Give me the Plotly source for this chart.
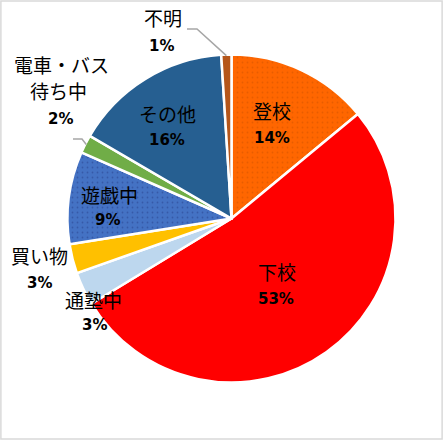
import math
import plotly.graph_objects as go

# ---- data ----
categories = ["登校", "下校", "通塾中", "買い物", "遊戯中", "電車・バス待ち中", "その他", "不明"]
values = [14.0, 52.3, 3.3, 2.9, 9.1, 1.8, 15.6, 1.0]
pct_labels = ["14%", "53%", "3%", "3%", "9%", "2%", "16%", "1%"]
name_lines = [["登校"], ["下校"], ["通塾中"], ["買い物"], ["遊戯中"], ["電車・バス", "待ち中"], ["その他"], ["不明"]]

# ---- style ----
colors = ["#FF6600", "#FF0000", "#BDD7EE", "#FFC000", "#4472C4", "#70AD47", "#265F91", "#B5561A"]
pattern_fg = ["#E85C00", "#FF0000", "#BDD7EE", "#FFC000", "#3659A8", "#70AD47", "#265F91", "#B5561A"]
pattern_shape = [".", "", "", "", ".", "", "", ""]
W, H = 443, 440
CX, CY, R = 231.5, 218.5, 164.0
# label anchor (pixel) positions: name line(s) center, percent center
name_pos = [[(272, 110)], [(277, 271)], [(93, 299)], [(39, 255)], [(109, 195)],
            [(61, 64), (59, 91)], [(167, 114)], [(163, 18)]]
pct_pos = [(272, 138), (276, 299), (94, 325), (39, 283), (107, 220), (60, 119), (167, 140), (161, 46)]
# leader lines: slice index -> elbow points (pixel)
leaders = {7: [(197, 29), (187, 29)], 5: [(82, 139), (73, 139)]}

FONT = "Noto Sans CJK JP"


def px(x):
    return x / W


def py(y):
    return 1 - y / H


fig = go.Figure(go.Pie(
    labels=categories,
    values=values,
    sort=False,
    direction="clockwise",
    rotation=0,
    textinfo="none",
    hoverinfo="label+percent",
    marker=dict(colors=colors, line=dict(color="white", width=2.5),
                pattern=dict(shape=pattern_shape, bgcolor=colors,
                             fgcolor=pattern_fg, size=5, solidity=0.1)),
    domain=dict(x=[px(CX - R), px(CX + R)], y=[py(CY + R), py(CY - R)]),
    showlegend=False,
))

annotations = []
for i in range(len(categories)):
    for line, (x, y) in zip(name_lines[i], name_pos[i]):
        annotations.append(dict(x=px(x), y=py(y), xref="paper", yref="paper", text=line,
                                showarrow=False, font=dict(family=FONT, size=19, color="black"),
                                xanchor="center", yanchor="middle"))
    x, y = pct_pos[i]
    annotations.append(dict(x=px(x), y=py(y), xref="paper", yref="paper", text="<b>" + pct_labels[i] + "</b>",
                            showarrow=False, font=dict(family="DejaVu Sans", size=15, color="black"),
                            xanchor="center", yanchor="middle"))

shapes = []
total = sum(values)
cum = 0.0
for i, v in enumerate(values):
    mid = (cum + v / 2) / total * 2 * math.pi
    cum += v
    if i in leaders:
        ex = CX + (R - 1) * math.sin(mid)
        ey = CY - (R - 1) * math.cos(mid)
        pts = [(ex, ey)] + leaders[i]
        path = "M " + " L ".join(f"{px(a)},{py(b)}" for a, b in pts)
        shapes.append(dict(type="path", path=path, xref="paper", yref="paper",
                           line=dict(color="#A6A6A6", width=1.5)))

shapes.append(dict(type="rect", xref="paper", yref="paper", x0=0.002, y0=0.002, x1=0.998, y1=0.998,
                   line=dict(color="#D9D9D9", width=1.5)))

fig.update_layout(
    width=W, height=H,
    margin=dict(l=0, r=0, t=0, b=0),
    paper_bgcolor="white",
    plot_bgcolor="white",
    annotations=annotations,
    shapes=shapes,
)

fig.write_html("out.html", config={"displayModeBar": False},
               post_script="document.body.style.margin='0';document.body.style.overflow='hidden';")
